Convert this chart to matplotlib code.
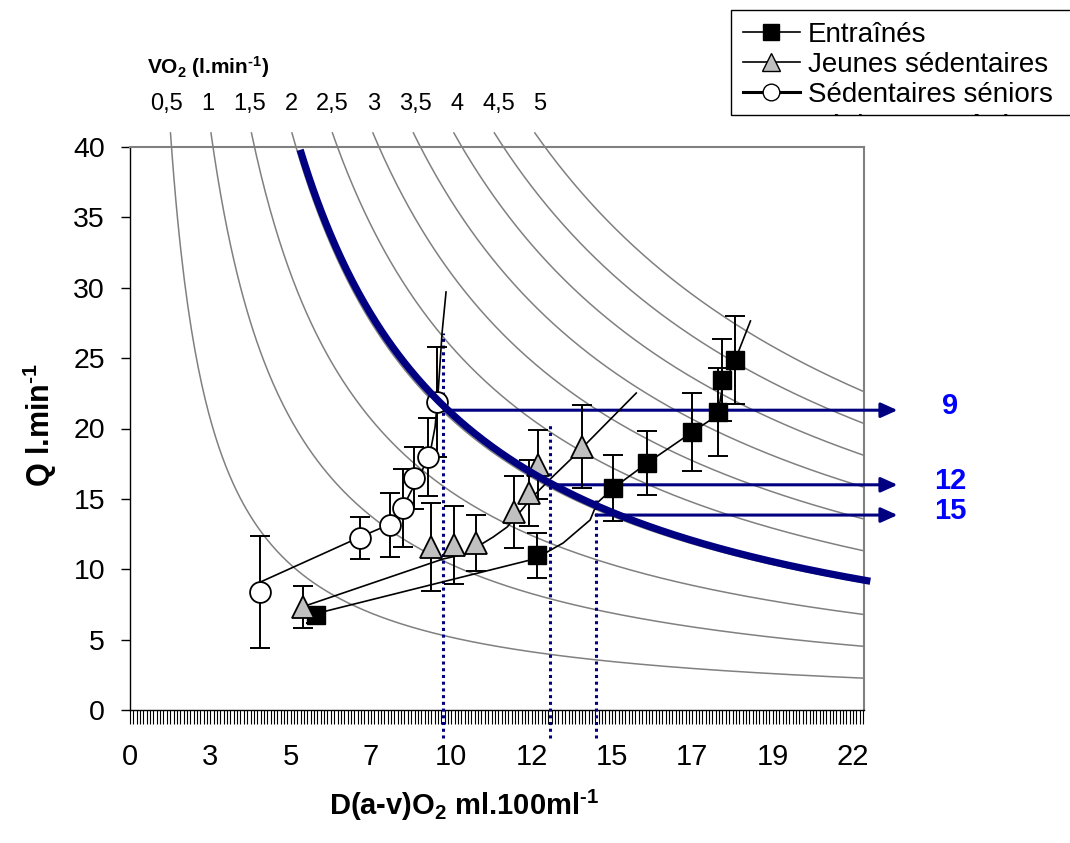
import numpy as np
import matplotlib
matplotlib.use("Agg")
import matplotlib.pyplot as plt
from matplotlib.lines import Line2D
from matplotlib.patches import Rectangle
from matplotlib.ticker import MultipleLocator

plt.rcParams['font.family'] = ['Liberation Sans', 'DejaVu Sans']
plt.rcParams['mathtext.fontset'] = 'custom'
plt.rcParams['mathtext.rm'] = 'Liberation Sans'
plt.rcParams['mathtext.bf'] = 'Liberation Sans:bold'
plt.rcParams['mathtext.it'] = 'Liberation Sans:italic'
NARROW = ['Liberation Sans Narrow', 'Liberation Sans']

# ---- Données ----
# courbes iso-VO2 (l.min-1)
vo2_levels = [0.5, 1, 1.5, 2, 2.5, 3, 3.5, 4, 4.5, 5]
vo2_labels = ['0,5', '1', '1,5', '2', '2,5', '3', '3,5', '4', '4,5', '5']
vo2_bold = 2.04

x_step = 2.42
x_ticklabels = ['0', '3', '5', '7', '10', '12', '15', '17', '19', '22']

# Entraînés
ent_d = [5.61, 12.27, 14.56, 15.58, 16.94, 17.72, 17.84, 18.23]
ent_q = [6.75, 11.01, 15.77, 17.55, 19.75, 21.17, 23.45, 24.87]
ent_err = [0.6, 1.6, 2.35, 2.25, 2.75, 3.15, 2.9, 3.15]
ent_line_d = [5.67, 12.06, 12.51, 13.05, 13.86, 14.07, 14.56, 15.58, 16.94, 17.48, 17.72, 17.84, 18.23, 18.69]
ent_line_q = [6.89, 10.66, 11.15, 11.87, 13.50, 14.71, 15.77, 17.55, 19.75, 20.60, 21.17, 22.88, 24.87, 27.64]

# Jeunes sédentaires
jeu_d = [5.21, 9.07, 9.76, 10.43, 11.57, 12.03, 12.30, 13.62]
jeu_q = [7.32, 11.58, 11.72, 11.86, 14.07, 15.42, 17.41, 18.69]
jeu_err = [1.5, 3.1, 2.75, 2.0, 2.55, 2.35, 2.45, 2.95]
jeu_line_d = [5.27, 9.43, 10.10, 10.94, 11.36, 11.75, 12.12, 12.66, 13.35, 15.25]
jeu_line_q = [7.39, 10.73, 11.08, 12.29, 13.00, 14.07, 15.13, 16.41, 17.98, 22.52]

# Sédentaires séniors
sen_d = [3.92, 6.93, 7.84, 8.23, 8.56, 8.98, 9.25]
sen_q = [8.38, 12.22, 13.14, 14.35, 16.48, 17.98, 21.88]
sen_err = [3.95, 1.5, 2.3, 2.8, 2.2, 2.75, 3.9]
sen_line_d = [3.86, 6.93, 7.84, 8.14, 8.44, 8.74, 9.04, 9.19, 9.28, 9.40, 9.52]
sen_line_q = [9.02, 12.29, 13.21, 14.00, 15.42, 16.70, 18.26, 20.11, 22.52, 26.79, 29.70]

# repères : verticales pointillées et flèches
vline_d = [9.43, 12.65, 14.04]
vline_q = [26.8, 20.3, 14.9]
arrow_q = [21.3, 16.0, 13.85]
arrow_labels = ['9', '12', '15']

XMAX = 22.11
NAVY = '#000080'
HY = '\u2010'  # trait d'union court pour les exposants

fig = plt.figure(figsize=(10.70, 8.43), dpi=100)
ax = fig.add_axes([130 / 1070, 133 / 843, 734 / 1070, 563 / 843])
ax.set_xlim(0, XMAX)
ax.set_ylim(0, 40)

# courbes iso-VO2 grises
for v in vo2_levels:
    d = np.linspace(v * 100 / 41, XMAX, 400)
    ax.plot(d, v * 100 / d, color='#808080', lw=1.1, clip_on=False, zorder=1)

# libellés VO2 en haut
tr = ax.get_xaxis_transform()
for v, lab in zip(vo2_levels, vo2_labels):
    ax.text(v * 2.5 - 0.15, 1.077, lab, transform=tr, ha='center', va='center', fontsize=17)
ax.text(0.5, 1.142, r'VO$_\mathbf{2}$ (l.min$^{\mathbf{' + HY + r'1}}$)', transform=tr,
        ha='left', va='center', fontsize=15, fontweight='bold')

# verticales pointillées
for d, qt in zip(vline_d, vline_q):
    ax.plot([d, d], [-2.0, qt], color=NAVY, lw=2.2, ls=(0, (1, 1.2)), clip_on=False, zorder=3)

# flèches horizontales
for d, q, lab in zip(vline_d, arrow_q, arrow_labels):
    ax.annotate('', xy=(23.12, q), xytext=(d, q), annotation_clip=False,
                arrowprops=dict(arrowstyle='-|>,head_length=1.0,head_width=0.45',
                                color=NAVY, lw=2.2, shrinkA=0, shrinkB=0), zorder=3)
    ax.text(24.71, q + 0.3, lab, color='#0000ff', fontsize=21, fontweight='bold',
            ha='center', va='center', clip_on=False)

# lignes reliant les groupes
ax.plot(ent_line_d, ent_line_q, color='black', lw=1.2, zorder=4)
ax.plot(jeu_line_d, jeu_line_q, color='black', lw=1.2, zorder=4)
ax.plot(sen_line_d, sen_line_q, color='black', lw=1.2, zorder=4)

# barres d'erreur
err_kw = dict(fmt='none', ecolor='black', elinewidth=1.4, capsize=7.5, capthick=1.4, zorder=5)
ax.errorbar(ent_d, ent_q, yerr=ent_err, **err_kw)
ax.errorbar(jeu_d, jeu_q, yerr=jeu_err, **err_kw)
ax.errorbar(sen_d, sen_q, yerr=sen_err, **err_kw)

# points
ax.plot(ent_d, ent_q, ls='none', marker='s', ms=13, mfc='black', mec='black', zorder=6)
ax.plot(jeu_d, jeu_q, ls='none', marker='^', ms=16, mfc='#c0c0c0', mec='black', mew=1.3, zorder=6)
ax.plot(sen_d, sen_q, ls='none', marker='o', ms=15, mfc='white', mec='black', mew=1.3, zorder=6)

# courbe iso-VO2 en gras
d = np.linspace(vo2_bold * 100 / 39.8, 22.3, 400)
ax.plot(d, vo2_bold * 100 / d, color=NAVY, lw=5.2, clip_on=False, zorder=7, solid_capstyle='butt')

# axes
for s in ['top', 'right']:
    ax.spines[s].set_color('#808080')
    ax.spines[s].set_linewidth(1.5)
ax.spines['left'].set_linewidth(1.0)
ax.spines['bottom'].set_linewidth(1.0)

ax.set_yticks(range(0, 41, 5))
ax.tick_params(axis='y', direction='out', length=6.5, width=1, labelsize=20.5, pad=11.5)
ax.set_xticks(np.arange(10) * x_step)
ax.set_xticklabels(x_ticklabels, family=NARROW, fontsize=21)
ax.xaxis.set_minor_locator(MultipleLocator(x_step / 24))
ax.tick_params(axis='x', which='both', direction='out', length=10, width=0.8, pad=14)

fig.text(40 / 1070, 1 - 425 / 843, r'Q l.min$^{\mathbf{' + HY + r'1}}$', rotation=90,
         ha='center', va='center', fontsize=22, fontweight='bold')
fig.text(464 / 1070, 1 - 805 / 843, r'D(a-v)O$_\mathbf{2}$ ml.100ml$^{\mathbf{' + HY + r'1}}$',
         ha='center', va='center', fontsize=21, fontweight='bold', family=NARROW)

# légende
box = Rectangle((731 / 1070, 1 - 115 / 843), 360 / 1070, 105 / 843, transform=fig.transFigure,
                facecolor='white', edgecolor='black', lw=1.0)
fig.add_artist(box)
handles = [
    Line2D([], [], color='black', lw=1.2, marker='s', ms=11, mfc='black', mec='black'),
    Line2D([], [], color='black', lw=1.2, marker='^', ms=13, mfc='#c0c0c0', mec='black'),
    Line2D([], [], color='black', lw=2.2, marker='o', ms=12, mfc='white', mec='black'),
]
labels = ['Entraînés', 'Jeunes sédentaires', 'Sédentaires séniors']
fig.legend(handles, labels, loc='upper left', bbox_to_anchor=(740 / 1070, 1 - 19 / 843),
           frameon=False, prop={'family': NARROW, 'size': 20}, handlelength=2.05,
           handletextpad=0.3, labelspacing=0.15, borderpad=0.1, borderaxespad=0)
t = fig.text(808 / 1070, 1 - 134 / 843, 'Séniors entraînés', ha='left', va='baseline',
             fontsize=20, family=NARROW)
t.set_clip_path(box)

fig.savefig('out.png', dpi=100)
